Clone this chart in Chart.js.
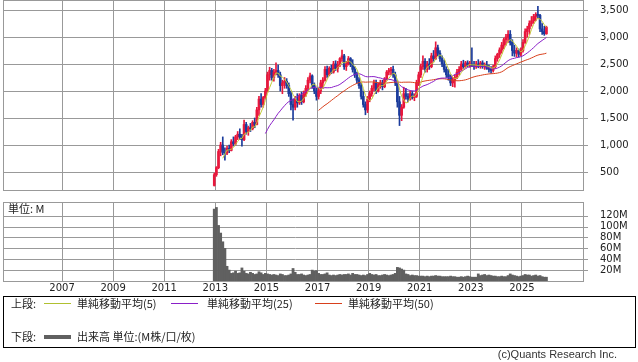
<!DOCTYPE html>
<html>
<head>
<meta charset="utf-8">
<script src="https://cdn.jsdelivr.net/npm/chart.js@4.4.1/dist/chart.umd.min.js"></script>
<style>
  body { margin: 0; background: #fff; width: 638px; height: 362px; position: relative; overflow: hidden;
         font-family: "Noto Sans CJK JP", sans-serif; color: #222; }
  canvas { position: absolute; left: 0; }
  #price { top: 0; }
  #vol { top: 196px; }
  .txt { position: absolute; font-size: 11px; line-height: 14px; white-space: nowrap; }
  .swatch { position: absolute; height: 1px; width: 27px; }
  #legendBox { position: absolute; left: 3px; top: 296px; width: 631px; height: 50px; border: 1px solid #000; }
  #credit { position: absolute; right: 21px; top: 348px; font: 11px "Liberation Sans", sans-serif; color: #333; }
</style>
</head>
<body>
<canvas id="price" width="638" height="191"></canvas>
<canvas id="vol" width="638" height="100"></canvas>
<div class="txt" style="left:8px;top:201px;">単位: M</div>

<div id="legendBox"></div>
<div class="txt" style="left:11px;top:296px;">上段:</div>
<div class="swatch" style="left:44px;top:303px;background:#b0c030;"></div>
<div class="txt" style="left:77px;top:296px;">単純移動平均(5)</div>
<div class="swatch" style="left:171px;top:303px;background:#8a1fc8;"></div>
<div class="txt" style="left:207px;top:296px;">単純移動平均(25)</div>
<div class="swatch" style="left:315px;top:303px;background:#d8401c;"></div>
<div class="txt" style="left:348px;top:296px;">単純移動平均(50)</div>
<div class="txt" style="left:11px;top:329px;">下段:</div>
<div class="swatch" style="left:44px;top:335px;height:4px;background:#606060;"></div>
<div class="txt" style="left:77px;top:329px;">出来高 単位:(M株/口/枚)</div>
<div id="credit">(c)Quants Research Inc.</div>

<script>
// monthly candles, first one is Dec 2012
const startYear = 2012, startMonth = 12;

const opens = [
  250, 450, 580, 880, 1000, 860, 850, 940, 900, 1060, 1020, 1150,
  1200, 1150, 1100, 1380, 1250, 1320, 1300, 1420, 1380, 1650, 1850, 1750,
  1880, 2000, 2300, 2380, 2250, 2350, 2380, 2300, 2100, 2150, 2180, 2100,
  1950, 1750, 1700, 1850, 1780, 1920, 1800, 1950, 2050, 2200, 2280, 2100,
  2000, 1900, 2000, 2150, 2200, 2400, 2300, 2420, 2350, 2500, 2420, 2480,
  2600, 2650, 2450, 2500, 2600, 2500, 2400, 2300, 2200, 2100, 1900, 1750,
  1650, 1850, 1950, 2050, 2150, 2000, 2120, 2150, 2080, 2220, 2350, 2380,
  2400, 2300, 2150, 1800, 1550, 1700, 1950, 1900, 1850, 1950, 1880, 1900,
  2150, 2300, 2450, 2550, 2400, 2500, 2450, 2650, 2600, 2800, 2700, 2600,
  2500, 2400, 2300, 2250, 2150, 2200, 2250, 2350, 2400, 2500, 2450, 2520,
  2480, 2500, 2470, 2450, 2500, 2450, 2520, 2450, 2480, 2420, 2400, 2380,
  2450, 2600, 2680, 2760, 2850, 2950, 3000, 3050, 2900, 2750, 2700, 2750,
  2680, 2750, 2900, 3100, 3150, 3250, 3300, 3380, 3420, 3400, 3150, 3100, 3060
];
const highs = [
  480, 600, 920, 1050, 1150, 950, 980, 1000, 1100, 1150, 1180, 1250,
  1300, 1200, 1460, 1420, 1350, 1400, 1450, 1500, 1700, 1900, 1950, 1900,
  2050, 2350, 2440, 2420, 2400, 2520, 2480, 2350, 2200, 2250, 2230, 2150,
  2000, 1850, 1900, 1950, 1950, 1980, 2000, 2100, 2250, 2330, 2300, 2150,
  2050, 2050, 2200, 2250, 2450, 2460, 2450, 2480, 2550, 2560, 2550, 2620,
  2760, 2680, 2550, 2640, 2620, 2580, 2450, 2350, 2250, 2150, 2000, 1800,
  1900, 2000, 2100, 2200, 2200, 2150, 2200, 2200, 2250, 2380, 2420, 2440,
  2460, 2350, 2200, 1900, 1750, 2070, 2050, 1950, 2000, 2000, 1950, 2200,
  2350, 2500, 2650, 2600, 2550, 2600, 2700, 2750, 2910, 2850, 2750, 2650,
  2570, 2450, 2400, 2300, 2250, 2300, 2400, 2450, 2550, 2570, 2550, 2560,
  2550, 2800, 2550, 2550, 2580, 2550, 2560, 2520, 2550, 2480, 2450, 2480,
  2650, 2700, 2800, 2900, 2980, 3050, 3120, 3120, 2950, 2850, 2800, 2780,
  2800, 2950, 3150, 3200, 3300, 3380, 3420, 3450, 3570, 3420, 3250, 3200, 3200
];
const lows = [
  240, 420, 560, 800, 820, 720, 820, 860, 890, 980, 1000, 1100,
  1100, 980, 1080, 1200, 1180, 1250, 1280, 1320, 1370, 1550, 1700, 1700,
  1850, 1980, 2200, 2200, 2180, 2300, 2250, 2000, 1950, 2050, 2050, 1900,
  1650, 1460, 1650, 1700, 1750, 1750, 1780, 1900, 2000, 2150, 2050, 1950,
  1830, 1850, 1950, 2050, 2180, 2250, 2280, 2320, 2330, 2380, 2350, 2450,
  2550, 2400, 2380, 2480, 2450, 2350, 2250, 2150, 2050, 1850, 1700, 1560,
  1600, 1800, 1900, 2000, 1950, 1980, 2050, 2020, 2060, 2200, 2300, 2300,
  2250, 2100, 1700, 1360, 1450, 1680, 1850, 1800, 1830, 1850, 1820, 1880,
  2100, 2250, 2400, 2350, 2350, 2400, 2430, 2550, 2580, 2650, 2550, 2450,
  2350, 2250, 2200, 2100, 2080, 2070, 2230, 2300, 2380, 2420, 2430, 2450,
  2440, 2450, 2400, 2420, 2430, 2420, 2420, 2400, 2400, 2350, 2330, 2350,
  2420, 2550, 2620, 2700, 2780, 2850, 2900, 2850, 2650, 2640, 2630, 2630,
  2650, 2720, 2880, 3000, 3050, 3200, 3250, 3300, 3350, 3100, 3050, 3030, 3050
];
const closes = [
  450, 580, 880, 1000, 860, 850, 940, 900, 1060, 1020, 1150, 1200,
  1150, 1100, 1380, 1250, 1320, 1300, 1420, 1380, 1650, 1850, 1750, 1880,
  2000, 2300, 2380, 2250, 2350, 2380, 2300, 2100, 2150, 2180, 2100, 1950,
  1750, 1700, 1850, 1780, 1920, 1800, 1950, 2050, 2200, 2280, 2100, 2000,
  1900, 2000, 2150, 2200, 2400, 2300, 2420, 2350, 2500, 2420, 2480, 2600,
  2650, 2450, 2500, 2600, 2500, 2400, 2300, 2200, 2100, 1900, 1750, 1650,
  1850, 1950, 2050, 2150, 2000, 2120, 2150, 2080, 2220, 2350, 2380, 2400,
  2300, 2150, 1800, 1550, 1700, 1950, 1900, 1850, 1950, 1880, 1900, 2150,
  2300, 2450, 2550, 2400, 2500, 2450, 2650, 2600, 2800, 2700, 2600, 2500,
  2400, 2300, 2250, 2150, 2200, 2250, 2350, 2400, 2500, 2450, 2520, 2480,
  2500, 2470, 2450, 2500, 2450, 2520, 2450, 2480, 2420, 2400, 2380, 2450,
  2600, 2680, 2760, 2850, 2950, 3000, 3050, 2900, 2750, 2700, 2750, 2680,
  2750, 2900, 3100, 3150, 3250, 3300, 3380, 3420, 3400, 3150, 3100, 3060, 3180
];
// volume, millions
const volumes = [
  132, 135, 102, 88, 72, 60, 27, 20, 14, 15, 18, 14,
  15, 24, 18, 14, 13, 16, 14, 12, 13, 17, 15, 12,
  14, 13, 12, 11, 12, 11, 10, 13, 12, 10, 10, 11,
  13, 23, 16, 12, 12, 13, 11, 10, 11, 12, 20, 18,
  19, 14, 12, 12, 13, 15, 11, 10, 11, 10, 11, 12,
  11, 12, 12, 13, 11, 14, 12, 12, 11, 10, 11, 10,
  12, 14, 12, 11, 12, 10, 10, 11, 12, 11, 10, 11,
  12, 14, 25, 24, 22, 20, 13, 12, 10, 11, 10, 10,
  9, 9, 9, 8, 9, 8, 9, 9, 10, 9, 9, 8,
  8, 8, 8, 9, 8, 8, 7, 7, 8, 7, 8, 9,
  8, 7, 7, 7, 13, 10, 11, 12, 10, 11, 10, 9,
  9, 8, 8, 9, 8, 8, 10, 13, 11, 10, 9, 8,
  9, 10, 12, 11, 11, 9, 10, 11, 9, 10, 8, 7, 7
];

const yearTicks = [2007, 2009, 2011, 2013, 2015, 2017, 2019, 2021, 2023, 2025];
const priceTicks = [500, 1000, 1500, 2000, 2500, 3000, 3500];
const volumeTicks = [20, 40, 60, 80, 100, 120];

const GRID = '#999999';
const UP = '#e8173c', DOWN = '#1c3c9c';
const xMin = 2004.69, xMax = 2027.39;

const monthPos = i => startYear + (startMonth - 1 + i + 0.5) / 12;
const sma = (src, n) => src.map((_, i) =>
  i < n - 1 ? null : src.slice(i - n + 1, i + 1).reduce((a, b) => a + b, 0) / n);

const candleColor = closes.map((c, i) => c >= opens[i] ? UP : DOWN);

// frame + horizontal grid (from the y scale's ticks) under the data
const framePlugin = {
  id: 'frame',
  beforeDatasetsDraw(chart) {
    const { ctx, chartArea: a, scales: { y } } = chart;
    ctx.save();
    ctx.strokeStyle = GRID;
    ctx.lineWidth = 1;
    ctx.beginPath();
    y.ticks.forEach(t => {
      const py = Math.round(y.getPixelForValue(t.value)) + 0.5;
      ctx.moveTo(a.left, py);
      ctx.lineTo(a.right + 5, py);
    });
    ctx.stroke();
    ctx.strokeRect(Math.round(a.left) + 0.5, Math.round(a.top) + 0.5,
      Math.round(a.right - a.left), Math.round(a.bottom - a.top));
    ctx.restore();
  }
};

const tickFont = { family: 'DejaVu Sans', size: 10 };

function xAxis(showLabels, height) {
  return {
    type: 'linear', min: xMin, max: xMax, offset: false,
    afterBuildTicks: s => { s.ticks = yearTicks.map(v => ({ value: v })); },
    afterFit: s => { s.height = height; },
    grid: { color: GRID, drawTicks: false, offset: false },
    border: { display: false },
    ticks: { display: showLabels, font: tickFont, color: '#222', padding: 1, maxRotation: 0,
             callback: v => String(v) }
  };
}

function yAxis(min, max, ticks, fmt) {
  return {
    type: 'linear', position: 'right', min, max,
    afterBuildTicks: s => { s.ticks = ticks.map(v => ({ value: v })); },
    afterFit: s => { s.width = 55; },
    grid: { display: false },
    border: { display: false },
    ticks: { font: tickFont, color: '#222', padding: 9, callback: fmt }
  };
}

// move/resize a canvas so its plot area spans page rows top..bottom
function placeChart(chart, top, bottom) {
  const a = chart.chartArea;
  const above = a.top, below = chart.height - a.bottom;
  chart.canvas.style.top = (top - above) + 'px';
  chart.resize(638, Math.round(bottom - top + above + below));
}

const maLine = (n, color) => ({
  type: 'line',
  data: sma(closes, n).map((v, i) => ({ x: monthPos(i), y: v })),
  borderColor: color, borderWidth: 1, pointRadius: 0, spanGaps: false, order: 0
});

const priceChart = new Chart(document.getElementById('price'), {
  type: 'bar',
  data: {
    datasets: [
      maLine(5, '#c2cc3a'),
      maLine(25, '#8a1fc8'),
      maLine(50, '#d8401c'),
      {
        data: closes.map((c, i) => ({ x: monthPos(i), y: [opens[i], c] })),
        backgroundColor: candleColor, barThickness: 2, grouped: false, order: 1
      },
      {
        data: highs.map((h, i) => ({ x: monthPos(i), y: [lows[i], h] })),
        backgroundColor: candleColor, barThickness: 1, grouped: false, order: 2
      }
    ]
  },
  options: {
    responsive: false,
    maintainAspectRatio: false,
    animation: false,
    layout: { padding: { left: 3, top: 1, right: 0, bottom: 0 } },
    plugins: { legend: { display: false }, tooltip: { enabled: false } },
    scales: {
      x: xAxis(false, 1),
      y: yAxis(167, 3685, priceTicks, v => v.toLocaleString('en-US'))
    }
  },
  plugins: [framePlugin]
});

const volChart = new Chart(document.getElementById('vol'), {
  type: 'bar',
  data: {
    datasets: [{
      data: volumes.map((v, i) => ({ x: monthPos(i), y: v })),
      backgroundColor: '#606060', barPercentage: 1, categoryPercentage: 1
    }]
  },
  options: {
    responsive: false,
    maintainAspectRatio: false,
    animation: false,
    layout: { padding: { left: 3, top: 6, right: 0, bottom: 0 } },
    plugins: { legend: { display: false }, tooltip: { enabled: false } },
    scales: {
      x: xAxis(true, 15),
      y: yAxis(0, 145, volumeTicks, v => v + 'M')
    }
  },
  plugins: [framePlugin]
});

placeChart(priceChart, 0, 190);
placeChart(volChart, 202, 281);
</script>
</body>
</html>
